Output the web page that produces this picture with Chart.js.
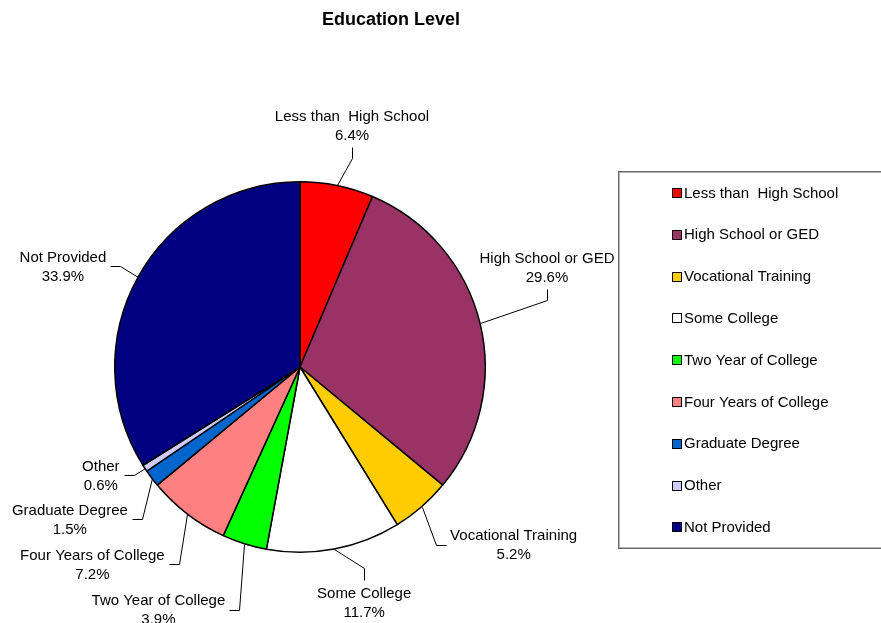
<!DOCTYPE html>
<html>
<head>
<meta charset="utf-8">
<script src="https://cdn.jsdelivr.net/npm/chart.js@4.4.0/dist/chart.umd.min.js"></script>
<style>
  html, body { margin: 0; padding: 0; background: #fff; }
  #wrap { width: 881px; height: 623px; position: relative; }
</style>
</head>
<body>
<div id="wrap"><canvas id="edu" width="881" height="623"></canvas></div>
<script>
const categories = [
  'Less than  High School', 'High School or GED', 'Vocational Training',
  'Some College', 'Two Year of College', 'Four Years of College',
  'Graduate Degree', 'Other', 'Not Provided'
];
const shares = [6.4, 29.6, 5.2, 11.7, 3.9, 7.2, 1.5, 0.6, 33.9];
const sliceColors = [
  '#FF0000', '#993366', '#FFCC00', '#FFFFFF', '#00FF00',
  '#FF8080', '#0066CC', '#CCCCFF', '#000080'
];

// where each data label sits, relative to the slice's outer mid point,
// and which side of the label the leader line attaches to
const labelPlacement = [
  { dx: 15, dy: -60, side: 'bottom' },
  { dx: 67, dy: -56, side: 'bottom' },
  { dx: 92, dy: 38, side: 'left' },
  { dx: 30, dy: 53, side: 'top' },
  { dx: -86, dy: 66, side: 'right' },
  { dx: -95, dy: 50, side: 'right' },
  { dx: -82, dy: 41, side: 'right' },
  { dx: -44, dy: 7, side: 'right' },
  { dx: -75, dy: -11, side: 'right' }
];

const FONT = "'Liberation Sans', Arial, sans-serif";

const decorations = {
  id: 'decorations',
  afterDatasetsDraw(chart) {
    const ctx = chart.ctx;
    const meta = chart.getDatasetMeta(0);
    const values = chart.data.datasets[0].data;

    ctx.save();
    ctx.font = '15px ' + FONT;
    ctx.fillStyle = '#000';
    ctx.strokeStyle = '#000';
    ctx.lineWidth = 1;
    ctx.textAlign = 'center';
    ctx.textBaseline = 'middle';

    meta.data.forEach((arc, i) => {
      const p = arc.getProps(['x', 'y', 'startAngle', 'endAngle', 'outerRadius'], true);
      const mid = (p.startAngle + p.endAngle) / 2;
      const ax = p.x + Math.cos(mid) * p.outerRadius;
      const ay = p.y + Math.sin(mid) * p.outerRadius;
      const pl = labelPlacement[i];
      const cx = ax + pl.dx;
      const cy = ay + pl.dy;
      const line1 = chart.data.labels[i];
      const line2 = values[i].toFixed(1) + '%';
      const w = Math.max(ctx.measureText(line1).width, ctx.measureText(line2).width);

      ctx.fillText(line1, cx, cy - 8.5);
      ctx.fillText(line2, cx, cy + 10.5);

      let ex, ey, bx, by;
      if (pl.side === 'bottom') { ex = cx; ey = cy + 22; bx = cx; by = cy + 33; }
      else if (pl.side === 'top') { ex = cx; ey = cy - 22; bx = cx; by = cy - 34; }
      else if (pl.side === 'right') { ex = cx + w / 2 + 4; ey = cy; bx = ex + 10; by = cy; }
      else { ex = cx - w / 2 - 4; ey = cy; bx = ex - 10; by = cy; }

      ctx.beginPath();
      ctx.moveTo(Math.round(ax) + 0.5, Math.round(ay) + 0.5);
      ctx.lineTo(Math.round(bx) + 0.5, Math.round(by) + 0.5);
      ctx.lineTo(Math.round(ex) + 0.5, Math.round(ey) + 0.5);
      ctx.stroke();
    });

    // title
    ctx.font = 'bold 18px ' + FONT;
    ctx.fillText('Education Level', 391, 20);

    // legend
    ctx.strokeStyle = '#6b6b6b';
    ctx.lineWidth = 1.5;
    ctx.strokeRect(618.75, 171.75, 300, 376.5);
    ctx.font = '15px ' + FONT;
    ctx.textAlign = 'left';
    ctx.lineWidth = 1;
    ctx.strokeStyle = '#000';
    chart.data.labels.forEach((name, i) => {
      const y = 192.5 + i * 41.8;
      const sy = Math.round(y - 4.5) + 0.5;
      ctx.fillStyle = sliceColors[i];
      ctx.fillRect(672.5, sy, 9, 9);
      ctx.strokeRect(672.5, sy, 9, 9);
      ctx.fillStyle = '#000';
      ctx.fillText(name, 684, y + 1);
    });
    ctx.restore();
  }
};

new Chart(document.getElementById('edu').getContext('2d'), {
  type: 'pie',
  data: {
    labels: categories,
    datasets: [{
      data: shares,
      backgroundColor: sliceColors,
      borderColor: '#000',
      borderWidth: 1.5
    }]
  },
  options: {
    responsive: false,
    animation: false,
    events: [],
    layout: { padding: { left: 114, top: 181, right: 395, bottom: 70 } },
    plugins: {
      legend: { display: false },
      title: { display: false },
      tooltip: { enabled: false }
    }
  },
  plugins: [decorations]
});
</script>
</body>
</html>
